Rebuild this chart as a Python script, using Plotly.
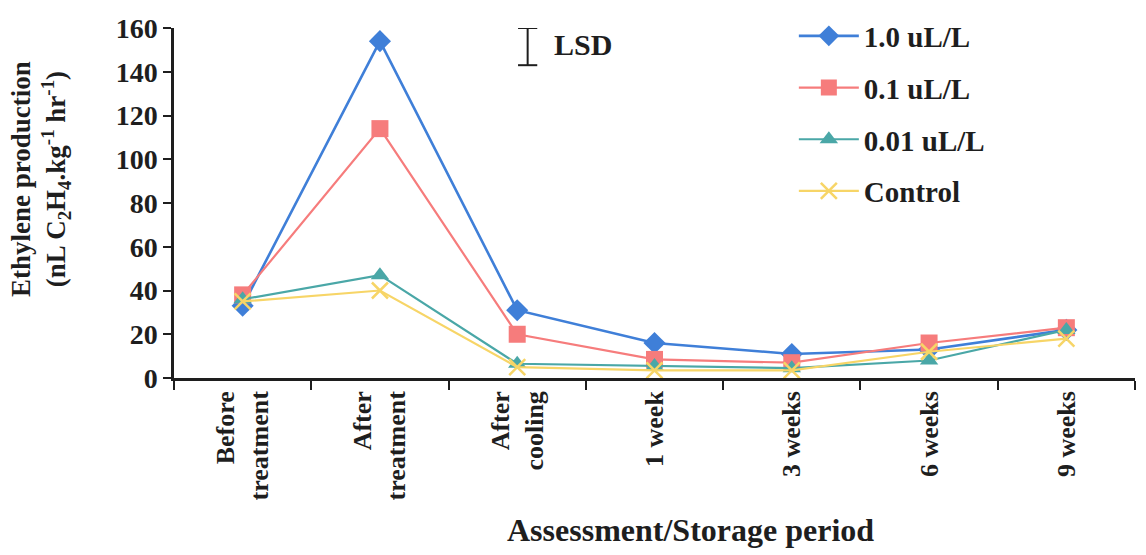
import plotly.graph_objects as go

# Assessment points along the storage timeline
periods = ["Before<br>treatment", "After<br>treatment", "After<br>cooling",
           "1 week", "3 weeks", "6 weeks", "9 weeks"]

# Ethylene production (nL C2H4 kg-1 hr-1) per treatment concentration
conc_1_0 = [33, 154, 31, 16, 11, 13, 22]
conc_0_1 = [38, 114, 20, 8.5, 7, 16, 23]
conc_0_01 = [36, 47, 6.5, 5.5, 4.5, 8, 22]
control = [35, 40, 5, 3.5, 3.5, 12, 18]

# Least significant difference bar
lsd = 17

series_names = ["1.0 uL/L", "0.1 uL/L", "0.01 uL/L", "Control"]
series_values = [conc_1_0, conc_0_1, conc_0_01, control]
colors = ["#3f7fd8", "#f67c7c", "#4aa7a7", "#f7d567"]
symbols = ["diamond", "square", "triangle-up", "x-thin"]
marker_sizes = [17, 17, 16, 16]
line_widths = [2.6, 2.2, 2.2, 2.2]

FONT = "Liberation Serif"
INK = "#1e1e1e"


def bold(size):
    return dict(family=FONT, size=size, color=INK, weight="bold")


fig = go.Figure()
for i, (name, vals) in enumerate(zip(series_names, series_values)):
    marker = dict(symbol=symbols[i], size=marker_sizes[i], color=colors[i])
    if symbols[i] == "x-thin":
        marker["line"] = dict(color=colors[i], width=2.5)
    fig.add_trace(go.Scatter(
        x=periods, y=vals, name=name, mode="lines+markers",
        line=dict(color=colors[i], width=line_widths[i]),
        marker=marker, legendgroup=f"g{i}",
    ))

# LSD indicator
lsd_x = 0.368
cap = 0.01
for shp in [
    dict(x0=lsd_x, x1=lsd_x, y0=160, y1=160 - lsd),
    dict(x0=lsd_x - cap, x1=lsd_x + cap, y0=160, y1=160),
    dict(x0=lsd_x - cap, x1=lsd_x + cap, y0=160 - lsd, y1=160 - lsd),
]:
    fig.add_shape(type="line", xref="paper", yref="y",
                  line=dict(color=INK, width=2), **shp)

fig.add_annotation(text="LSD", xref="paper", yref="y",
                   x=0.393, y=160 - lsd / 2 + 1, xanchor="left", yanchor="middle",
                   showarrow=False, font=bold(30))

# Axis titles
fig.add_annotation(text="Assessment/Storage period", xref="paper", yref="paper",
                   x=0.537, y=-0.435, xanchor="center", yanchor="middle",
                   showarrow=False, font=bold(32))

fig.add_annotation(
    text="Ethylene production<br>(nL C<sub>2</sub>H<sub>4</sub>.kg<sup>-1</sup> hr<sup>-1</sup>)",
    xref="paper", yref="paper", x=-0.139, y=0.57, xanchor="center", yanchor="middle",
    textangle=-90, showarrow=False, font=bold(27),
)

fig.update_layout(
    width=1146, height=555,
    margin=dict(l=174, r=11, t=25, b=177),
    paper_bgcolor="white", plot_bgcolor="white",
    font=dict(family=FONT, color=INK),
    showlegend=True,
    legend=dict(
        x=0.645, y=1.05, xanchor="left", yanchor="top",
        font=bold(29),
        itemwidth=60, tracegroupgap=11, traceorder="grouped",
        bgcolor="rgba(0,0,0,0)",
    ),
    xaxis=dict(
        type="category", range=[-0.5, 6.5],
        showline=True, linecolor=INK, linewidth=2.5,
        ticks="outside", ticklen=9, tickwidth=2, tickcolor=INK,
        tickson="boundaries", tickangle=-90,
        tickfont=bold(26),
        showgrid=False, zeroline=False,
    ),
    yaxis=dict(
        range=[0, 160], tickvals=list(range(0, 161, 20)),
        showline=True, linecolor=INK, linewidth=2.5,
        ticks="outside", ticklen=8, tickwidth=2, tickcolor=INK,
        tickfont=bold(28),
        showgrid=False, zeroline=False,
    ),
)

fig.write_html("out.html")
